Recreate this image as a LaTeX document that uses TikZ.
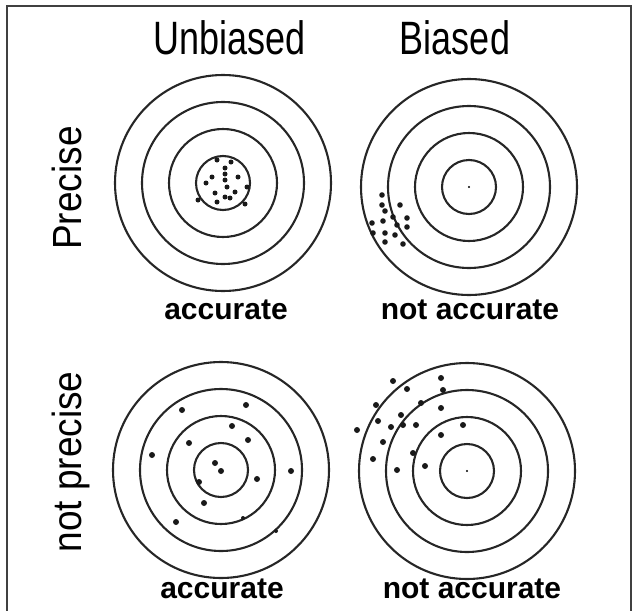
\documentclass[tikz,border=0pt]{standalone}
\usepackage{fontspec}
\setmainfont{Liberation Sans}
\begin{document}
\begin{tikzpicture}[x=1pt,y=-1pt,
  ring/.style={draw=black!85, line width=2.1pt},
  bigdot/.style={fill=black!90},
  head/.style={font=\fontsize{36}{40}\selectfont, anchor=base, inner sep=0pt, yscale=1.3},
  side/.style={font=\fontsize{37}{40}\selectfont, anchor=base, rotate=90, inner sep=0pt, yscale=1.1},
  verdict/.style={font=\fontsize{30}{34}\selectfont\bfseries, anchor=base, inner sep=0pt},
  frame/.style={draw=black!75, line width=1.4pt}]
\useasboundingbox (0,0) rectangle (636,610);
\draw[frame] (7,612) -- (7,6) -- (631,6) -- (631,612);

% centres
\coordinate (tl) at (223,183);
\coordinate (tr) at (469,187);
\coordinate (bl) at (221,470);
\coordinate (br) at (467,471);

\foreach \c in {tl,tr,bl,br}{
  \foreach \r in {27,54,81,108}{\draw[ring] (\c) circle (\r);}
}

% labels
\node[head] (unb) at (230,54) {Unbiased};
\node[head] (bia) at (455,54) {Biased};
\node[side] (pre) at (81,188) {Precise};
\node[side] (npre) at (81,462) {not precise};
\node[verdict] (acc1) at (226,319) {accurate};
\node[verdict] (nacc1) at (470,319) {not accurate};
\node[verdict] (acc2) at (222,598) {accurate};
\node[verdict] (nacc2) at (472,598) {not accurate};

% top-left: precise and accurate
\foreach \x/\y in {225/168,212/177,238/177,206/183,225/180,227/187,215/193,235/192,225/197,198/200,217/202,245/204,230/198,247/187,217/160,225/174,231/162}{
  \fill[bigdot] (\x,\y) circle (2.5);
}
% top-right: precise, biased
\fill (tr) circle (1.2);
\foreach \x/\y in {382/195,382/205,400/205,385/211,393/217,407/218,383/221,372/223,397/225,407/227,373/233,385/233,395/235,403/244,385/242}{
  \fill[bigdot] (\x,\y) circle (2.8);
}
% bottom-left: not precise, accurate
\foreach \x/\y in {182/410,246/405,232/426,189/443,248/440,152/455,215/463,221/471,199/482,257/479,291/471,204/503,176/522}{
  \fill[bigdot] (\x,\y) circle (3);
}
\fill[bigdot] (243,518) circle (2);
\fill[bigdot] (276,531) circle (2);
% bottom-right: not precise, biased
\fill (br) circle (1.2);
\foreach \x/\y in {393/381,407/389,441/378,443/390,376/405,421/403,441/408,378/421,401/415,391/427,403/425,416/425,463/425,357/430,383/442,441/435,413/453,373/459,397/470,425/466}{
  \fill[bigdot] (\x,\y) circle (3);
}
\end{tikzpicture}
\end{document}
